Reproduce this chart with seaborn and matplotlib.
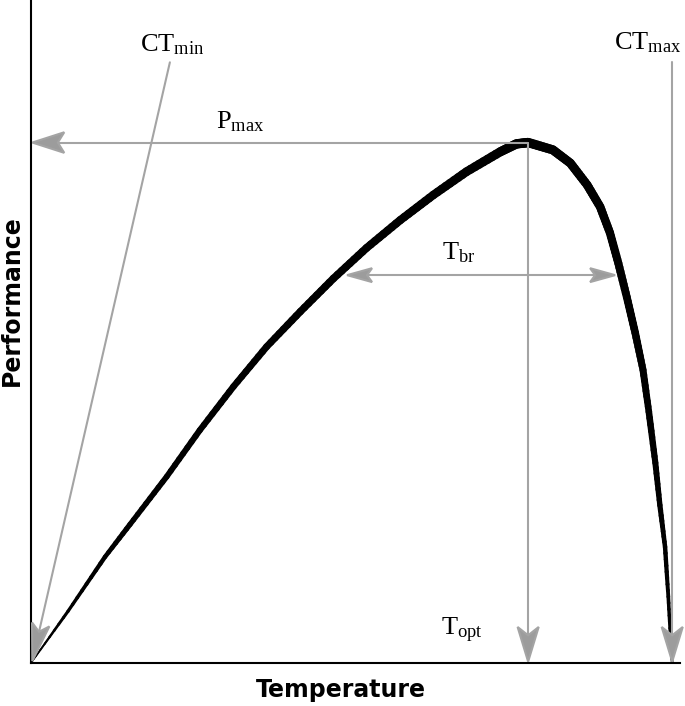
import numpy as np
import matplotlib
matplotlib.use("Agg")
import matplotlib.pyplot as plt
import seaborn as sns
from matplotlib.collections import LineCollection
from matplotlib.patches import ArrowStyle
from matplotlib.path import Path

# thermal performance curve (axes run 0-100 on both sides)
temperature = [0.0, 5.7, 11.4, 15.8, 20.9, 26.0, 31.2, 36.3, 41.5, 46.6,
               51.7, 56.9, 62.0, 67.1, 72.3, 74.8, 76.6, 80.4, 83.1, 85.7,
               87.7, 89.2, 90.5, 91.8, 93.1, 94.3, 95.2, 96.2, 96.9, 97.7,
               98.2, 98.6, 98.8]
performance = [0.0, 7.8, 16.0, 21.6, 28.1, 35.1, 41.7, 47.7, 53.0, 58.0,
               62.6, 66.8, 70.6, 74.1, 77.1, 78.3, 78.5, 77.4, 75.4, 72.1,
               68.8, 64.9, 60.3, 55.2, 49.8, 44.2, 37.9, 30.2, 23.8, 17.5,
               10.0, 2.4, 0.0]

t_opt = 76.6
p_max = 78.5
ct_min_start = (21.4, 90.6)
ct_max_x = 98.8
tbr_left = 48.7
tbr_right = 90.0
tbr_level = 58.5

labels = {
    "ct_min": r"$\mathrm{CT}_{\mathrm{min}}$",
    "ct_max": r"$\mathrm{CT}_{\mathrm{max}}$",
    "p_max": r"$\mathrm{P}_{\mathrm{max}}$",
    "t_br": r"$\mathrm{T}_{\mathrm{br}}$",
    "t_opt": r"$\mathrm{T}_{\mathrm{opt}}$",
}

GREY = "#a4a4a4"
HEAD_GREY = "#9c9c9c"


class NotchedArrow(ArrowStyle._Base):
    """Straight arrow with a swept-back (concave) filled head."""

    def __init__(self, head_length=1.1, head_width=0.34, notch=0.8, both=False):
        self.hl, self.hw, self.notch, self.both = head_length, head_width, notch, both
        super().__init__()

    def _head(self, tip, d, size):
        n = np.array([-d[1], d[0]])
        L, W = self.hl * size, self.hw * size
        verts = [tip, tip - L * d + W * n, tip - self.notch * L * d,
                 tip - L * d - W * n, tip]
        return Path(verts, closed=True), tip - self.notch * L * d

    def transmute(self, path, mutation_size, linewidth):
        p0, p1 = np.asarray(path.vertices[0]), np.asarray(path.vertices[-1])
        d = (p1 - p0) / np.hypot(*(p1 - p0))
        head_end, line_end = self._head(p1, d, mutation_size)
        paths, fills = [], []
        line_start = p0
        if self.both:
            head_start, line_start = self._head(p0, -d, mutation_size)
            paths.append(head_start)
            fills.append(True)
        paths.insert(0, Path([line_start, line_end]))
        fills.insert(0, False)
        paths.append(head_end)
        fills.append(True)
        return paths, fills


sns.set_style("white")
plt.rcParams["font.family"] = ["DejaVu Sans"]
plt.rcParams["mathtext.fontset"] = "custom"
plt.rcParams["mathtext.rm"] = "Liberation Serif"
plt.rcParams["mathtext.it"] = "Liberation Serif:italic"

fig = plt.figure(figsize=(6.85, 7.06), dpi=100)
ax = fig.add_axes([31 / 685, 43 / 706, 649 / 685, 663 / 706])

# thin base line through seaborn, then the tapered stroke on top
sns.lineplot(x=temperature, y=performance, ax=ax, color="black", lw=1.0,
             sort=False, estimator=None)

# split each straight piece so the stroke width can taper smoothly
x = np.array(temperature)
y = np.array(performance)
t = np.linspace(0, 1, 9)[:-1]
fx = np.concatenate([x[i] + t * (x[i + 1] - x[i]) for i in range(len(x) - 1)] + [x[-1:]])
fy = np.concatenate([y[i] + t * (y[i + 1] - y[i]) for i in range(len(y) - 1)] + [y[-1:]])
pts = np.column_stack([fx, fy]).reshape(-1, 1, 2)
segs = np.concatenate([pts[:-1], pts[1:]], axis=1)
mid = (fx[:-1] + fx[1:]) / 2
widths = np.interp(mid, [0, 5, 15, 40, 65, 76, 87, 93, 96, 98, 99],
                   [1.0, 2.2, 3.8, 5.2, 6.2, 6.8, 6.2, 5.5, 4.5, 3.0, 1.5])
lc = LineCollection(segs, linewidths=widths, colors="black",
                    capstyle="round", joinstyle="round", zorder=3)
ax.add_collection(lc)

ax.set_xlim(0, 100)
ax.set_ylim(0, 100)
ax.set_xticks([])
ax.set_yticks([])
sns.despine(ax=ax)
for side in ["left", "bottom"]:
    ax.spines[side].set_color("black")
    ax.spines[side].set_linewidth(1.5)


def arrow(start, end, hl=1.1, hw=0.34, notch=0.8, both=False):
    ax.annotate("", xy=end, xytext=start,
                arrowprops=dict(arrowstyle=NotchedArrow(hl, hw, notch, both),
                                edgecolor=GREY, facecolor=HEAD_GREY, lw=1.5,
                                joinstyle="miter", shrinkA=0, shrinkB=0,
                                mutation_scale=20),
                zorder=5, annotation_clip=False)


arrow((t_opt, p_max), (0.2, p_max), hl=1.15, hw=0.37)
arrow(ct_min_start, (0.2, 0.3), hl=1.35, hw=0.32)
arrow((ct_max_x, 90.6), (ct_max_x, 0.2), hl=1.25, hw=0.38, notch=0.76)
arrow((t_opt, p_max), (t_opt, 0.2), hl=1.25, hw=0.38, notch=0.76)
arrow((tbr_left, tbr_level), (tbr_right, tbr_level), hl=0.9, hw=0.25, both=True)

tkw = dict(fontsize=19, ha="center", va="baseline", color="black")
ax.text(21.7, 92.2, labels["ct_min"], **tkw)
ax.text(95.1, 92.5, labels["ct_max"], **tkw)
ax.text(32.2, 80.7, labels["p_max"], **tkw)
ax.text(65.9, 60.9, labels["t_br"], **tkw)
ax.text(66.4, 4.2, labels["t_opt"], **tkw)

ax.set_xlabel("Temperature", fontsize=17, fontweight="bold", va="center",
              color="black")
ax.set_ylabel("Performance", fontsize=17, fontweight="bold", va="center",
              color="black")
ax.xaxis.set_label_coords(0.478, -0.041)
ax.yaxis.set_label_coords(-0.029, 0.546)

fig.savefig("out.png", dpi=100)
